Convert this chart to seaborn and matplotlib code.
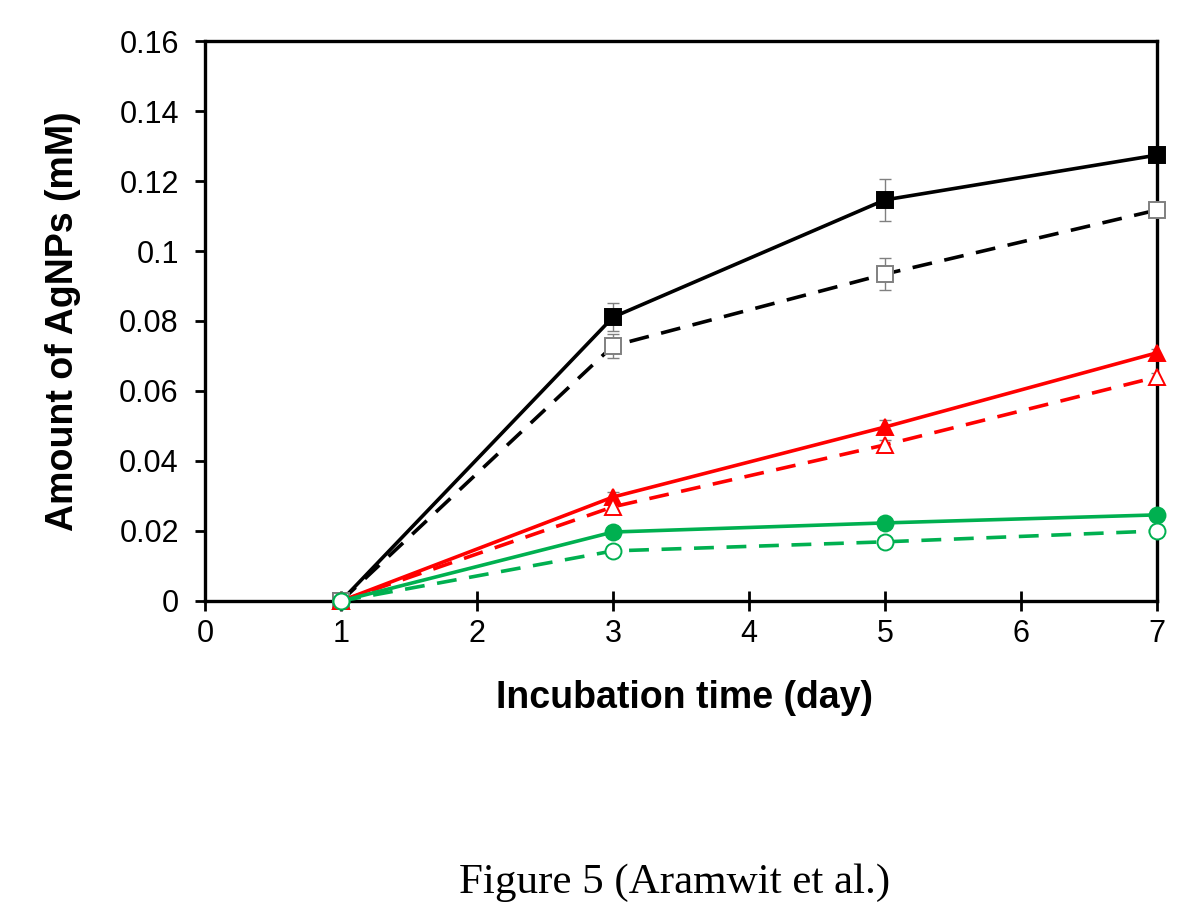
import matplotlib
matplotlib.use("Agg")
import matplotlib.pyplot as plt
import seaborn as sns
from pandas import DataFrame

days = [1, 3, 5, 7]
black_solid = [0.0, 0.0811, 0.1146, 0.1274]
black_solid_err = [0.0, 0.004, 0.006, 0.002]
black_dash = [0.0, 0.0729, 0.0934, 0.1117]
black_dash_err = [0.0, 0.0035, 0.0045, 0.0015]
red_solid = [0.0, 0.0297, 0.0497, 0.0709]
red_solid_err = [0.0, 0.0015, 0.002, 0.001]
red_dash = [0.0, 0.0269, 0.0446, 0.0640]
red_dash_err = [0.0, 0.001, 0.0015, 0.001]
green_solid = [0.0, 0.0197, 0.0223, 0.0246]
green_solid_err = [0.0, 0.001, 0.001, 0.001]
green_dash = [0.0, 0.0143, 0.0169, 0.0200]
green_dash_err = [0.0, 0.001, 0.001, 0.001]

# (values, errors, colour, linestyle, marker, filled)
series = [
    (black_solid, black_solid_err, "black", "-", "s", True),
    (black_dash, black_dash_err, "black", "--", "s", False),
    (red_solid, red_solid_err, "#ff0000", "-", "^", True),
    (red_dash, red_dash_err, "#ff0000", "--", "^", False),
    (green_solid, green_solid_err, "#00b050", "-", "o", True),
    (green_dash, green_dash_err, "#00b050", "--", "o", False),
]

sns.set_style("white")
plt.rcParams["font.family"] = ["Liberation Sans", "DejaVu Sans"]
plt.rcParams["text.color"] = "black"
plt.rcParams["axes.labelcolor"] = "black"
plt.rcParams["xtick.color"] = "black"
plt.rcParams["ytick.color"] = "black"

fig = plt.figure(figsize=(12, 9.24), dpi=100)
ax = fig.add_axes([0.171, 0.3496, 0.793, 0.606])

for vals, errs, col, ls, mk, filled in series:
    df = DataFrame({"day": days, "amount": vals})
    ax.errorbar(days, vals, yerr=errs, fmt="none", ecolor="#808080",
                elinewidth=1, capsize=4, capthick=1, zorder=2)
    sns.lineplot(data=df, x="day", y="amount", ax=ax, color=col,
                 linestyle=ls, linewidth=2.6, marker=mk, markersize=11.5,
                 markerfacecolor=col if filled else "white",
                 markeredgecolor=col if filled else ("#808080" if col == "black" else col),
                 markeredgewidth=1.4, zorder=3, clip_on=False)
    if ls == "--":
        ax.lines[-1].set_dashes((5.5, 3.5))

ax.set_xlim(0, 7)
ax.set_ylim(0, 0.16)
ax.set_xticks(range(8))
ax.set_yticks([0, 0.02, 0.04, 0.06, 0.08, 0.1, 0.12, 0.14, 0.16])
ax.set_yticklabels(["0", "0.02", "0.04", "0.06", "0.08", "0.1", "0.12", "0.14", "0.16"])
ax.tick_params(axis="both", width=2, labelsize=22, bottom=True, left=True)
ax.tick_params(axis="x", direction="inout", length=14, pad=6)
ax.tick_params(axis="y", direction="out", length=7, pad=12)
for sp in ax.spines.values():
    sp.set_visible(True)
    sp.set_color("black")
    sp.set_linewidth(2.4)
ax.set_xlabel("Incubation time (day)", fontsize=27, fontweight="bold")
ax.set_ylabel("Amount of AgNPs (mM)", fontsize=27, fontweight="bold")
ax.xaxis.set_label_coords(0.504, -0.141)
ax.yaxis.set_label_coords(-0.131, 0.5)

fig.text(0.5625, 0.0335, "Figure 5 (Aramwit et al.)", ha="center", va="baseline",
         fontsize=31, family=["Liberation Serif", "DejaVu Serif"])

fig.savefig("out.png", dpi=100)
